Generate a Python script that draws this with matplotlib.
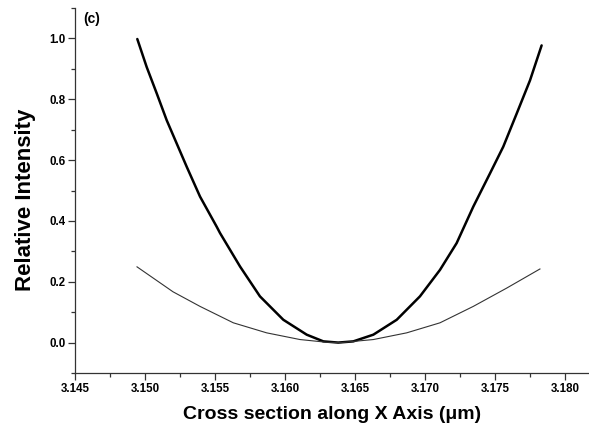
import matplotlib
matplotlib.use("Agg")
import matplotlib.pyplot as plt
from matplotlib.ticker import MultipleLocator

# Thick curve
x_thick = [3.14945, 3.15012, 3.15084, 3.15155, 3.15226, 3.15298, 3.15393, 3.15512,
           3.15536, 3.15679, 3.15821, 3.15988, 3.16155, 3.16274, 3.16380, 3.16488,
           3.16631, 3.16798, 3.16964, 3.17107, 3.17226, 3.17345, 3.17464, 3.17559,
           3.17655, 3.17750, 3.17833]
y_thick = [0.998, 0.906, 0.819, 0.731, 0.655, 0.578, 0.480, 0.381,
           0.360, 0.250, 0.152, 0.075, 0.026, 0.004, 0.000, 0.004,
           0.026, 0.075, 0.152, 0.239, 0.327, 0.447, 0.556, 0.644,
           0.753, 0.862, 0.977]

# Thin curve
x_thin = [3.14943, 3.15200, 3.15393, 3.15631, 3.15869, 3.16107, 3.16298, 3.16400,
          3.16631, 3.16869, 3.17107, 3.17345, 3.17583, 3.17821]
y_thin = [0.249, 0.167, 0.119, 0.065, 0.032, 0.010, 0.001, 0.000,
          0.010, 0.032, 0.065, 0.119, 0.179, 0.242]

x_ticks = [3.145, 3.150, 3.155, 3.160, 3.165, 3.170, 3.175, 3.180]
y_ticks = [0.0, 0.2, 0.4, 0.6, 0.8, 1.0]

plt.rcParams['font.family'] = ['Liberation Sans', 'DejaVu Sans']
plt.rcParams['font.weight'] = 'bold'

fig = plt.figure(figsize=(5.89, 4.28), dpi=100)
ax = fig.add_axes([75/589, 55/428, 1 - 75/589, (373-8)/428])

ax.plot(x_thick, y_thick, color='black', lw=1.8, solid_joinstyle='round', solid_capstyle='round')
ax.plot(x_thin, y_thin, color='#333333', lw=0.8)

ax.set_xlim(3.145, 3.145 + 514/70*0.005)
ax.set_ylim(-0.1, 1.1)
ax.set_xticks(x_ticks)
ax.set_xticklabels([f"{v:.3f}" for v in x_ticks])
ax.set_yticks(y_ticks)
ax.set_yticklabels([f"{v:.1f}" for v in y_ticks])
ax.xaxis.set_minor_locator(MultipleLocator(0.0025))
ax.yaxis.set_minor_locator(MultipleLocator(0.1))

for s in ['top', 'right']:
    ax.spines[s].set_visible(False)
for s in ['left', 'bottom']:
    ax.spines[s].set_linewidth(0.9)
    ax.spines[s].set_color('#333333')

ax.tick_params(which='major', direction='out', length=5, width=0.9, color='#333333',
               labelsize=8.3, pad=2)
ax.tick_params(which='minor', direction='out', length=3, width=0.9, color='#333333')
for lbl in ax.get_xticklabels() + ax.get_yticklabels():
    lbl.set_fontweight('bold')

ax.set_xlabel('Cross section along X Axis (\u03bcm)', fontsize=14, fontweight='bold', labelpad=8)
ax.set_ylabel('Relative Intensity', fontsize=16, fontweight='bold')
ax.yaxis.set_label_coords(-0.076, 0.474)
ax.text(0.016, 0.988, '(c)', transform=ax.transAxes, fontsize=10, fontweight='bold',
        va='top', ha='left')

fig.savefig('out.png', dpi=100)
